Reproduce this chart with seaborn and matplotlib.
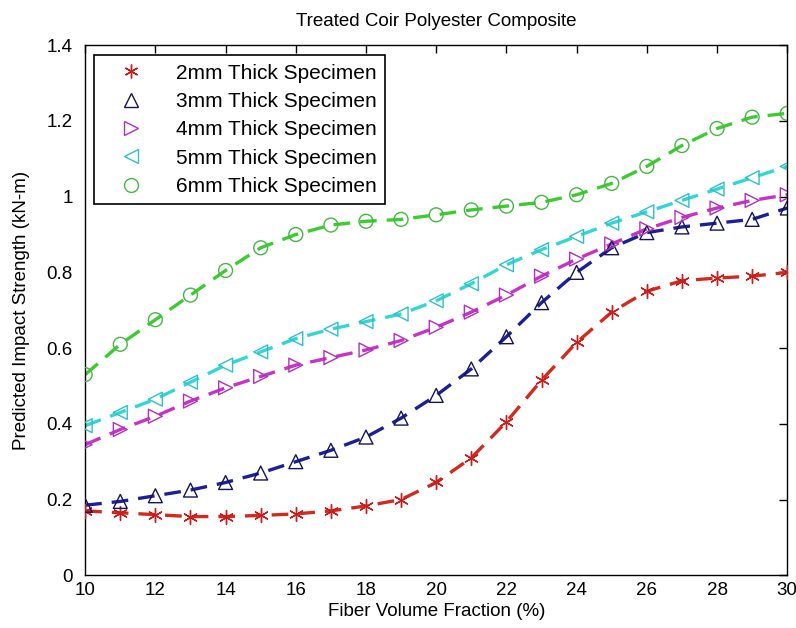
import matplotlib
matplotlib.use("Agg")
import matplotlib.pyplot as plt
import seaborn as sns
import pandas as pd
import numpy as np
from matplotlib.lines import Line2D
from matplotlib.ticker import FuncFormatter

x = list(range(10, 31))
s2 = [0.170, 0.165, 0.160, 0.155, 0.155, 0.158, 0.162, 0.170, 0.183, 0.200, 0.245,
      0.310, 0.405, 0.515, 0.615, 0.695, 0.750, 0.778, 0.785, 0.790, 0.800]
s3 = [0.185, 0.195, 0.210, 0.225, 0.245, 0.270, 0.300, 0.330, 0.365, 0.415, 0.475,
      0.545, 0.630, 0.720, 0.800, 0.865, 0.905, 0.920, 0.930, 0.940, 0.970]
s4 = [0.345, 0.385, 0.420, 0.460, 0.495, 0.525, 0.555, 0.575, 0.595, 0.620, 0.655,
      0.695, 0.740, 0.790, 0.835, 0.875, 0.915, 0.945, 0.970, 0.990, 1.005]
s5 = [0.395, 0.430, 0.465, 0.510, 0.555, 0.590, 0.625, 0.650, 0.670, 0.690, 0.725,
      0.770, 0.820, 0.860, 0.895, 0.930, 0.960, 0.990, 1.020, 1.050, 1.080]
s6 = [0.530, 0.610, 0.675, 0.740, 0.805, 0.865, 0.900, 0.925, 0.935, 0.940, 0.952,
      0.965, 0.975, 0.985, 1.005, 1.035, 1.080, 1.135, 1.180, 1.210, 1.220]
labels = ["2mm Thick Specimen", "3mm Thick Specimen", "4mm Thick Specimen",
          "5mm Thick Specimen", "6mm Thick Specimen"]
series = [s2, s3, s4, s5, s6]

line_colors = ["#d42a1e", "#1c1f9a", "#c832c8", "#33d6d6", "#3ccc30"]
marker_colors = ["#c81e1e", "#14145a", "#b030c0", "#30c0c8", "#44b844"]
markers = [(6, 2, 0), "^", ">", "<", "o"]

sns.set_theme(style="white")
plt.rcParams['font.family'] = ['Liberation Sans', 'DejaVu Sans']
plt.rcParams['text.color'] = 'black'
plt.rcParams['axes.labelcolor'] = 'black'

fig = plt.figure(figsize=(7.96, 6.28), dpi=100)
ax = fig.add_axes([0.107, 0.084, 0.882, 0.844])

rows = []
for lab, vals in zip(labels, series):
    for xi, yi in zip(x, vals):
        rows.append({"x": xi, "y": yi, "Specimen": lab})
df = pd.DataFrame(rows)

for lab, lc, mc, mk in zip(labels, line_colors, marker_colors, markers):
    sub = df[df["Specimen"] == lab]
    sns.lineplot(data=sub, x="x", y="y", ax=ax, color=lc, linewidth=2.4,
                 linestyle=(0, (5, 3)), legend=False, zorder=2)
    sns.scatterplot(data=sub, x="x", y="y", ax=ax, marker=mk, s=100,
                    facecolors="none" if mk != (6, 2, 0) else mc,
                    edgecolor=mc, color=mc, linewidth=1.0, legend=False, zorder=3)

ax.set_xlim(10, 30)
ax.set_ylim(0, 1.4)
ax.set_xticks(np.arange(10, 31, 2))
ax.set_yticks(np.arange(0, 1.41, 0.2))
ax.yaxis.set_major_formatter(FuncFormatter(lambda v, p: "%g" % round(v, 1)))
ax.tick_params(direction="in", length=6, width=1, top=True, right=True,
               labelsize=13.5, colors="black")
ax.tick_params(axis="y", pad=9)
ax.tick_params(axis="x", pad=5)
for sp in ax.spines.values():
    sp.set_color("black")
    sp.set_linewidth(1.0)

ax.set_xlabel("Fiber Volume Fraction (%)", fontsize=13.5, labelpad=3)
ax.set_ylabel("Predicted Impact Strength (kN-m)", fontsize=13.5, labelpad=12)
ax.set_title("Treated Coir Polyester Composite", fontsize=13.5, pad=14)

handles = []
for lab, mc, mk in zip(labels, marker_colors, markers):
    handles.append(Line2D([], [], linestyle="none", marker=mk, markersize=10,
                          markerfacecolor="none" if mk != (6, 2, 0) else mc,
                          markeredgecolor=mc, markeredgewidth=1.0, label=lab))
leg = ax.legend(handles=handles, loc="upper left", bbox_to_anchor=(0.013, 0.981),
                frameon=True, fancybox=False, edgecolor="black", framealpha=1,
                prop={'size': 15},
                handletextpad=0.8, borderpad=0.4, labelspacing=0.45,
                handlelength=2.7, borderaxespad=0)
leg.get_frame().set_linewidth(1.2)

fig.savefig("out.png", dpi=100, facecolor="white")
